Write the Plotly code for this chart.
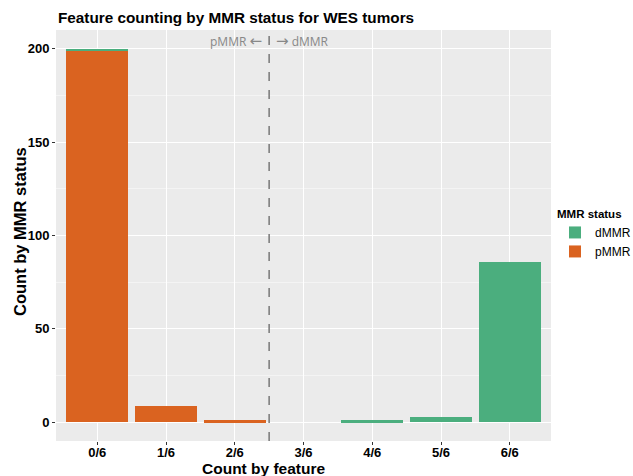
import plotly.graph_objects as go

categories = ["0/6", "1/6", "2/6", "3/6", "4/6", "5/6", "6/6"]
pmmr_counts = [199, 9, 1, 0, 0, 0, 0]
dmmr_counts = [1, 0, 0, 0, 1, 3, 86]
y_ticks = [0, 50, 100, 150, 200]

GREEN = "#4BAE7E"
ORANGE = "#DA6320"
FONT = "Liberation Sans, Arial, sans-serif"

L, R, T, B = 56, 551, 30, 441
W, H = 633, 476

fig = go.Figure()
fig.add_trace(go.Bar(x=categories, y=pmmr_counts, name="pMMR",
                     marker=dict(color=ORANGE, line=dict(width=0)), legendrank=2))
fig.add_trace(go.Bar(x=categories, y=dmmr_counts, name="dMMR",
                     marker=dict(color=GREEN, line=dict(width=0)), legendrank=1))

fig.add_shape(type="line", xref="x", yref="paper", x0=2.5, x1=2.5, y0=0, y1=1,
              line=dict(color="#777777", width=1.5, dash="dash"))
ann_font = dict(family="Open Sans, DejaVu Sans, sans-serif", size=12, color="#888888")
arrow_l = "<span style='font-family:DejaVu Sans;font-size:15px'>\u2190</span>"
arrow_r = "<span style='font-family:DejaVu Sans;font-size:15px'>\u2192</span>"
fig.add_annotation(x=2.5, y=1, xref="x", yref="paper", text="pMMR " + arrow_l, showarrow=False,
                   xanchor="right", yanchor="top", xshift=-5, yshift=0, font=ann_font)
fig.add_annotation(x=2.5, y=1, xref="x", yref="paper", text=arrow_r + " dMMR", showarrow=False,
                   xanchor="left", yanchor="top", xshift=5, yshift=0, font=ann_font)

# axis titles placed as in the reference
fig.add_annotation(x=(264 - L) / (R - L), y=0, xref="paper", yref="paper",
                   text="<b>Count by feature</b>", showarrow=False,
                   xanchor="center", yanchor="middle", yshift=-(468 - B),
                   font=dict(family=FONT, size=15.5, color="black"))
fig.add_annotation(x=(20 - L) / (R - L), y=(B - 232) / (B - T), xref="paper", yref="paper",
                   text="<b>Count by MMR status</b>", showarrow=False, textangle=-90,
                   xanchor="center", yanchor="middle",
                   font=dict(family=FONT, size=16.5, color="black"))

fig.update_layout(
    width=W, height=H,
    barmode="stack", bargap=0.1,
    plot_bgcolor="#EBEBEB", paper_bgcolor="white",
    margin=dict(l=L, r=W - R, t=T, b=H - B, autoexpand=False),
    font=dict(family=FONT, color="black"),
    title=dict(text="<b>Feature counting by MMR status for WES tumors</b>",
               x=58 / W, xanchor="left", xref="container",
               y=1 - 18 / H, yanchor="middle", yref="container",
               font=dict(size=15.3, color="black")),
    legend=dict(title=dict(text="<b>MMR status</b>", font=dict(size=11.5)),
                x=(555 - L) / (R - L), xanchor="left",
                y=(B - 203) / (B - T), yanchor="top",
                font=dict(size=12), traceorder="normal", itemwidth=30),
    xaxis=dict(type="category", categoryorder="array", categoryarray=categories,
               range=[-0.6, 6.6], showgrid=True, gridcolor="white", gridwidth=1.2,
               ticks="outside", ticklen=3, tickcolor="#333333",
               tickfont=dict(size=13, color="black", family=FONT, weight="bold"),
               ticklabelstandoff=-4,
               automargin=False, zeroline=False, showline=False),
    yaxis=dict(range=[-10, 210], tickvals=y_ticks, showgrid=True, gridcolor="white",
               gridwidth=1.2, ticks="outside", ticklen=3, tickcolor="#333333",
               tickfont=dict(size=13, color="black", family=FONT, weight="bold"),
               automargin=False, zeroline=False, showline=False,
               minor=dict(tickvals=[25, 75, 125, 175], showgrid=True, gridcolor="#F4F4F4", gridwidth=0.6, ticks="")),
)

fig.write_html("out.html", config={"displayModeBar": False},
               post_script="document.body.style.margin='0';")
